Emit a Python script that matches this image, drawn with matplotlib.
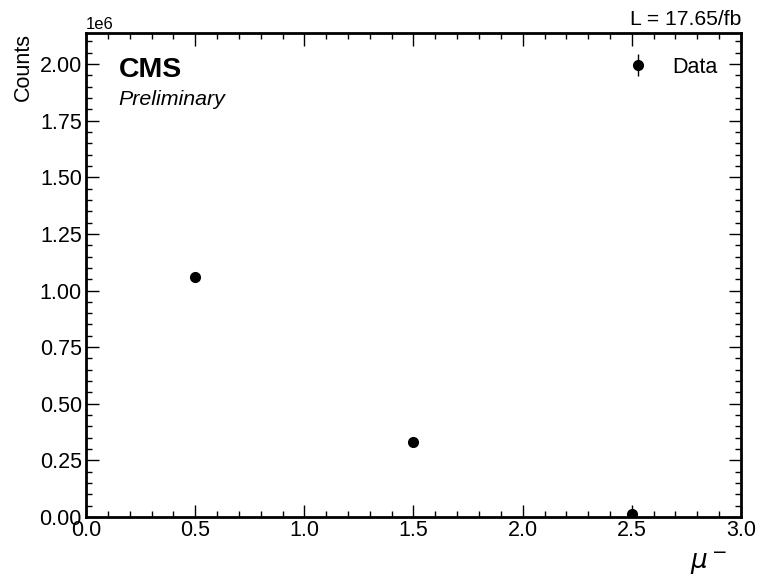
import numpy as np
import matplotlib
matplotlib.use("Agg")
import matplotlib.pyplot as plt
from matplotlib.ticker import MultipleLocator

# bin centres and counts
bin_centers = [0.5, 1.5, 2.5]
counts = [1.06e6, 0.332e6, 0.012e6]
lumi_text = "L = 17.65/fb"

plt.rcParams['font.family'] = ['Liberation Sans', 'DejaVu Sans']
plt.rcParams['mathtext.fontset'] = 'dejavusans'

fig = plt.figure(figsize=(7.59, 5.75), dpi=100)
ax = fig.add_axes([86/759, 1 - 517/575, (741-86)/759, (517-33)/575])

yerr = np.sqrt(counts)
ax.errorbar(bin_centers, counts, yerr=yerr, fmt='o', color='black',
            markersize=7, elinewidth=1, label='Data')

ax.set_xlim(0, 3.0)
ax.set_ylim(0, 2.137e6)
ax.xaxis.set_major_locator(MultipleLocator(0.5))
ax.xaxis.set_minor_locator(MultipleLocator(0.1))
ax.yaxis.set_major_locator(MultipleLocator(0.25e6))
ax.yaxis.set_minor_locator(MultipleLocator(0.05e6))
ax.ticklabel_format(axis='y', style='sci', scilimits=(0, 0))
ax.yaxis.get_offset_text().set_fontsize(12)

ax.tick_params(which='both', direction='in', top=True, right=True, labelsize=15.5)
ax.tick_params(which='major', length=9, width=1)
ax.tick_params(which='minor', length=4.5, width=1)
ax.tick_params(axis='x', pad=2)
ax.tick_params(axis='y', pad=3)
for s in ax.spines.values():
    s.set_linewidth(2)

ax.set_ylabel('Counts', fontsize=15.5, loc='top', labelpad=4)
ax.set_xlabel(r'$\mu^-$', fontsize=19, loc='right', labelpad=6)
ax.xaxis.label.set_x(0.98)

ax.text(0.05, 0.95, 'CMS', transform=ax.transAxes, fontsize=20.5,
        fontweight='bold', va='top', ha='left')
ax.text(0.05, 0.882, 'Preliminary', transform=ax.transAxes, fontsize=15.4,
        style='italic', va='top', ha='left')
ax.text(1.0, 1.008, lumi_text, transform=ax.transAxes, fontsize=15.2,
        ha='right', va='bottom')

ax.legend(loc='upper right', frameon=False, fontsize=15.5, handletextpad=0.6,
          borderaxespad=0.7)

fig.savefig('out.png', dpi=100)
